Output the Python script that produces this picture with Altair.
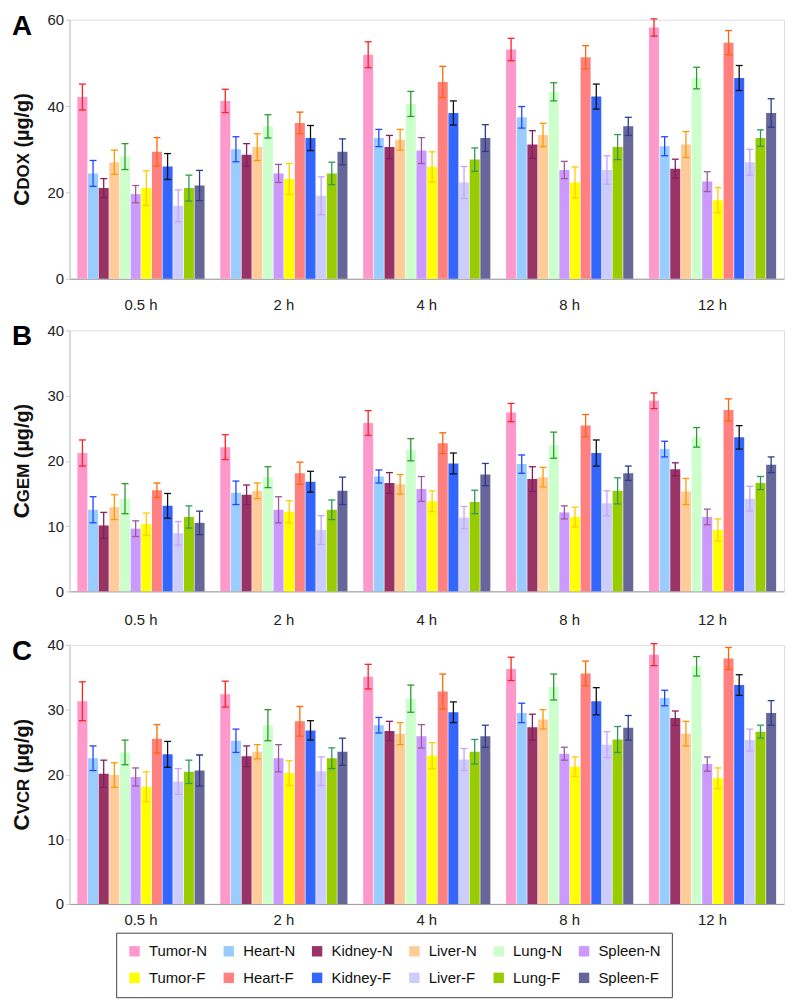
import altair as alt
import pandas as pd

times = ["0.5 h", "2 h", "4 h", "8 h", "12 h"]
series = ["Tumor-N", "Heart-N", "Kidney-N", "Liver-N", "Lung-N", "Spleen-N",
          "Tumor-F", "Heart-F", "Kidney-F", "Liver-F", "Lung-F", "Spleen-F"]
fill_colors = ["#FF99CC", "#99CCFF", "#993366", "#FFCC99", "#CCFFCC", "#CC99FF",
               "#FFFF00", "#FF8080", "#3366FF", "#CCCCFF", "#99CC00", "#666699"]
err_colors = ["#FF2020", "#2244FF", "#80205F", "#FF9900", "#2E9A2E", "#995C99",
              "#FFCC00", "#FF6600", "#111111", "#C9A0FF", "#2E9A5A", "#2E3A8C"]

# rows follow `series`, columns follow `times`
dox_mean = [
    [42.1, 41.2, 51.9, 53.1, 58.2],
    [24.4, 30.0, 32.6, 37.4, 30.7],
    [21.0, 28.7, 30.5, 31.1, 25.5],
    [27.0, 30.5, 32.2, 33.3, 31.1],
    [28.3, 35.3, 40.5, 43.3, 46.5],
    [19.6, 24.4, 29.7, 25.2, 22.5],
    [21.0, 23.1, 25.9, 22.3, 18.2],
    [29.4, 36.1, 45.6, 51.3, 54.7],
    [26.0, 32.6, 38.4, 42.2, 46.5],
    [16.9, 19.2, 22.3, 25.2, 27.0],
    [21.0, 24.4, 27.6, 30.5, 32.6],
    [21.6, 29.4, 32.6, 35.3, 38.4],
]
dox_err = [
    [3.0, 2.7, 3.0, 2.6, 2.0],
    [3.0, 2.9, 2.0, 2.5, 2.2],
    [2.2, 2.6, 2.7, 3.2, 2.2],
    [2.8, 3.1, 2.4, 2.7, 3.0],
    [3.0, 2.7, 2.9, 2.1, 2.5],
    [2.0, 2.1, 3.0, 2.0, 2.3],
    [4.0, 3.6, 3.5, 3.6, 2.9],
    [3.3, 2.5, 3.6, 2.7, 2.8],
    [3.0, 2.9, 2.8, 2.9, 2.9],
    [3.7, 4.4, 3.7, 3.3, 3.0],
    [3.0, 2.6, 2.7, 2.9, 1.9],
    [3.5, 3.0, 3.1, 2.1, 3.3],
]
gem_mean = [
    [21.2, 22.1, 25.8, 27.4, 29.2],
    [12.5, 15.1, 17.6, 19.5, 21.8],
    [10.1, 14.8, 16.6, 17.2, 18.7],
    [12.9, 15.4, 16.4, 17.5, 15.3],
    [14.2, 17.5, 21.7, 22.4, 23.6],
    [9.6, 12.5, 15.7, 12.1, 11.4],
    [10.3, 12.2, 13.8, 11.4, 9.4],
    [15.5, 18.1, 22.7, 25.4, 27.8],
    [13.1, 16.8, 19.6, 21.2, 23.6],
    [8.9, 9.4, 11.3, 13.5, 14.2],
    [11.4, 12.5, 13.7, 15.4, 16.6],
    [10.5, 15.4, 17.9, 18.1, 19.4],
]
gem_err = [
    [2.0, 1.9, 1.9, 1.4, 1.2],
    [2.0, 1.8, 1.0, 1.4, 1.2],
    [2.0, 1.5, 1.6, 1.9, 1.0],
    [1.9, 1.2, 1.5, 1.5, 2.0],
    [2.3, 1.6, 1.7, 2.0, 1.5],
    [1.2, 2.0, 1.9, 1.0, 1.2],
    [1.7, 1.7, 1.6, 1.5, 1.7],
    [1.1, 1.7, 1.6, 1.7, 1.7],
    [1.9, 1.6, 1.6, 2.0, 1.8],
    [1.8, 2.2, 1.7, 1.9, 1.9],
    [1.7, 1.5, 1.8, 2.0, 1.0],
    [1.8, 2.1, 1.7, 1.1, 1.2],
]
vcr_mean = [
    [31.3, 32.4, 35.1, 36.3, 38.5],
    [22.5, 25.2, 27.6, 29.5, 31.8],
    [20.1, 22.8, 26.7, 27.3, 28.7],
    [19.9, 23.5, 26.3, 28.5, 26.3],
    [23.4, 27.6, 31.7, 33.5, 36.7],
    [19.6, 22.5, 25.9, 23.2, 21.6],
    [18.1, 20.2, 22.9, 21.2, 19.4],
    [25.5, 28.2, 32.8, 35.6, 37.9],
    [23.1, 26.8, 29.6, 31.3, 33.8],
    [18.9, 20.5, 22.3, 24.6, 25.3],
    [20.4, 22.5, 23.5, 25.4, 26.6],
    [20.6, 23.5, 25.9, 27.2, 29.5],
]
vcr_err = [
    [3.0, 2.0, 1.9, 1.8, 1.7],
    [1.9, 1.8, 1.2, 1.5, 1.2],
    [2.1, 1.6, 1.5, 2.0, 1.1],
    [1.9, 1.1, 1.7, 1.5, 1.9],
    [1.9, 2.4, 2.1, 2.0, 1.5],
    [1.4, 2.1, 1.8, 1.0, 1.1],
    [2.3, 1.9, 2.0, 1.5, 1.6],
    [2.2, 2.3, 2.7, 1.9, 1.7],
    [2.0, 1.5, 1.6, 2.1, 1.6],
    [2.0, 2.2, 1.7, 2.0, 1.7],
    [1.8, 1.6, 1.9, 2.0, 1.0],
    [2.4, 2.1, 1.7, 1.9, 1.9],
]

FONT = "Liberation Sans"

legend = alt.Legend(
    title=None, orient="none", legendX=47, legendY=920, columns=6,
    direction="horizontal", symbolType="square", symbolSize=110,
    symbolStrokeWidth=0, labelFontSize=15, labelFont=FONT, labelColor="#111",
    strokeColor="#444", padding=11, rowPadding=11, columnPadding=14,
    labelOffset=7,
)


def title_piece(text, size, y):
    # rotated y-axis title drawn piecewise so the drug name can be smaller
    return alt.Chart(pd.DataFrame({"t": [text]})).mark_text(
        font=FONT, fontSize=size, fontWeight="bold", angle=270, align="left",
        baseline="alphabetic", color="#111",
    ).encode(text="t:N", x=alt.value(-41), y=alt.value(y))


def panel(mean, err, drug, ymax, step, letter, height, xpad):
    rows = []
    for i, s in enumerate(series):
        for j, t in enumerate(times):
            m, e = mean[i][j], err[i][j]
            rows.append({"time": t, "series": s, "mean": m, "lo": m - e, "hi": m + e})
    df = pd.DataFrame(rows)

    yaxis = alt.Axis(values=list(range(0, ymax + 1, step)), title=None,
                     labelFont=FONT, labelFontSize=15, labelColor="#222",
                     domainColor="#c8c8c8", tickColor="#c8c8c8", tickSize=4,
                     grid=False)
    yscale = alt.Scale(domain=[0, ymax], nice=False)

    base = alt.Chart(df).encode(
        x=alt.X("time:N", sort=times, title=None,
                scale=alt.Scale(paddingInner=0.11, paddingOuter=0.055),
                axis=alt.Axis(labelAngle=0, ticks=False, labelPadding=xpad,
                              labelFont=FONT, labelFontSize=15, labelColor="#222",
                              domainColor="#999")),
        xOffset=alt.XOffset("series:N", sort=series,
                            scale=alt.Scale(paddingInner=0.06)),
    )
    bars = base.mark_bar().encode(
        y=alt.Y("mean:Q", scale=yscale, axis=yaxis),
        fill=alt.Fill("series:N", sort=series,
                      scale=alt.Scale(domain=series, range=fill_colors),
                      legend=legend),
    )
    ecolor = alt.Color("series:N", scale=alt.Scale(domain=series, range=err_colors),
                       legend=None)
    rules = base.mark_rule(strokeWidth=1.3).encode(
        y=alt.Y("lo:Q", scale=yscale, axis=yaxis), y2="hi:Q", color=ecolor)
    top = base.mark_tick(thickness=1.3, size=7, opacity=1).encode(
        y=alt.Y("hi:Q", scale=yscale, axis=yaxis), color=ecolor)
    bottom = base.mark_tick(thickness=1.3, size=7, opacity=1).encode(
        y=alt.Y("lo:Q", scale=yscale, axis=yaxis), color=ecolor)
    tag = alt.Chart(pd.DataFrame({"t": [letter]})).mark_text(
        font=FONT, fontSize=28, fontWeight="bold", align="left", baseline="top",
        color="#000",
    ).encode(text="t:N", x=alt.value(-58), y=alt.value(-7))

    # widths (px) of the title pieces in Liberation Sans Bold
    w_c = 0.722 * 23
    w_drug = sum({"D": 0.722, "O": 0.778, "X": 0.667, "G": 0.778, "E": 0.667,
                  "M": 0.833, "V": 0.667, "C": 0.722, "R": 0.722}[ch] for ch in drug) * 17
    w_space = 0.278 * 20
    w_unit = 2.777 * 20
    y0 = height / 2 + (w_c + w_drug + w_space + w_unit) / 2
    title = [
        title_piece("C", 23, y0),
        title_piece(drug, 17, y0 - w_c),
        title_piece("(µg/g)", 20, y0 - w_c - w_drug - w_space),
    ]
    return alt.layer(bars, rules, top, bottom, tag, *title).properties(
        width=720, height=height)


chart = alt.vconcat(
    panel(dox_mean, dox_err, "DOX", 60, 20, "A", 261, 19),
    panel(gem_mean, gem_err, "GEM", 40, 10, "B", 263, 21),
    panel(vcr_mean, vcr_err, "VCR", 40, 10, "C", 261, 9),
    spacing=9,
).properties(
    padding={"left": 2, "top": 0, "right": 0, "bottom": 0}
).configure_view(
    stroke="#f0f0f0"
).configure(background="white")

chart.save("out.html", embed_options={"renderer": "svg", "actions": False})
